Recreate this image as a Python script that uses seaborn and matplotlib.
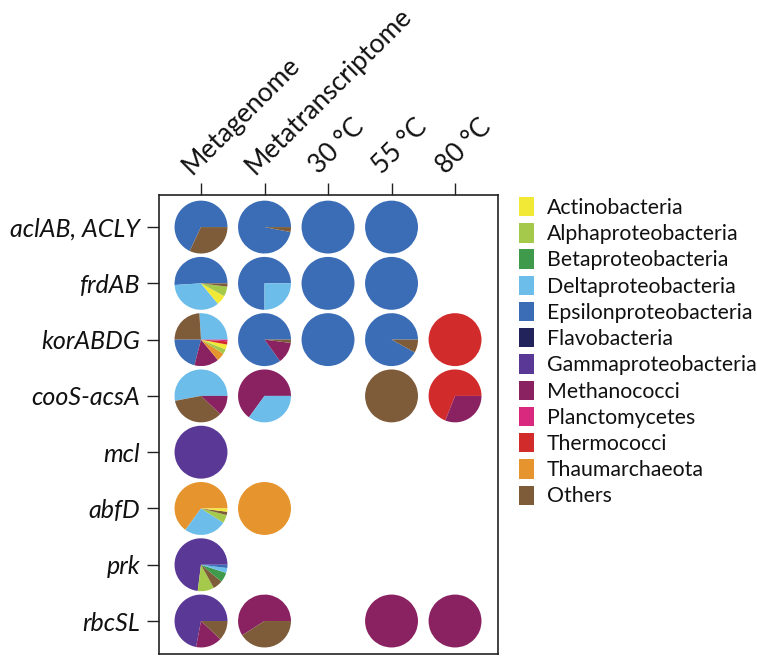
import matplotlib
matplotlib.use("Agg")
import matplotlib.pyplot as plt
from matplotlib.patches import Patch
from matplotlib.transforms import ScaledTranslation
import seaborn as sns

samples = ["Metagenome", "Metatranscriptome", "30 °C", "55 °C", "80 °C"]
genes = ["aclAB, ACLY", "frdAB", "korABDG", "cooS-acsA", "mcl", "abfD", "prk", "rbcSL"]

taxa = ["Actinobacteria", "Alphaproteobacteria", "Betaproteobacteria",
        "Deltaproteobacteria", "Epsilonproteobacteria", "Flavobacteria",
        "Gammaproteobacteria", "Methanococci", "Planctomycetes",
        "Thermococci", "Thaumarchaeota", "Others"]
taxa_colors = ["#f2e936", "#a4c94b", "#3f9a4c", "#6cbdea", "#3b6db6", "#23235c",
               "#5a3996", "#8a2262", "#d8297f", "#d22b2b", "#e6942e", "#7e5c3a"]

# share (%) of each taxon, listed counter-clockwise from 3 o'clock; None = no hits
aclAB = [[("Epsilonproteobacteria", 68), ("Others", 32)],
         [("Epsilonproteobacteria", 97), ("Others", 3)],
         [("Epsilonproteobacteria", 100)],
         [("Epsilonproteobacteria", 100)],
         None]
frdAB = [[("Epsilonproteobacteria", 51), ("Deltaproteobacteria", 35), ("Actinobacteria", 6),
          ("Alphaproteobacteria", 6), ("Others", 2)],
         [("Epsilonproteobacteria", 75), ("Deltaproteobacteria", 25)],
         [("Epsilonproteobacteria", 100)],
         [("Epsilonproteobacteria", 100)],
         None]
korABDG = [[("Deltaproteobacteria", 26), ("Others", 24), ("Epsilonproteobacteria", 21),
            ("Methanococci", 15), ("Thaumarchaeota", 5), ("Alphaproteobacteria", 3),
            ("Actinobacteria", 3), ("Thermococci", 2), ("Planctomycetes", 1)],
           [("Epsilonproteobacteria", 85), ("Methanococci", 13), ("Others", 2)],
           [("Epsilonproteobacteria", 100)],
           [("Epsilonproteobacteria", 92), ("Others", 8)],
           [("Thermococci", 100)]]
cooS_acsA = [[("Deltaproteobacteria", 53), ("Others", 35), ("Methanococci", 12)],
             [("Methanococci", 65), ("Deltaproteobacteria", 35)],
             None,
             [("Others", 100)],
             [("Thermococci", 69), ("Methanococci", 31)]]
mcl = [[("Gammaproteobacteria", 100)], None, None, None, None]
abfD = [[("Thaumarchaeota", 65), ("Deltaproteobacteria", 26), ("Alphaproteobacteria", 5),
         ("Others", 2), ("Actinobacteria", 2)],
        [("Thaumarchaeota", 100)],
        None, None, None]
prk = [[("Gammaproteobacteria", 73), ("Alphaproteobacteria", 10), ("Others", 6),
        ("Betaproteobacteria", 6), ("Deltaproteobacteria", 3), ("Epsilonproteobacteria", 2)],
       None, None, None, None]
rbcSL = [[("Gammaproteobacteria", 72), ("Methanococci", 16), ("Others", 12)],
         [("Methanococci", 59), ("Others", 41)],
         None,
         [("Methanococci", 100)],
         [("Methanococci", 100)]]
pies = [aclAB, frdAB, korABDG, cooS_acsA, mcl, abfD, prk, rbcSL]

sns.set_theme(style="white")
plt.rcParams["font.family"] = ["Lato", "DejaVu Sans"]
plt.rcParams["text.color"] = "#111111"
plt.rcParams["xtick.labelcolor"] = "#111111"
plt.rcParams["ytick.labelcolor"] = "#111111"
palette = dict(zip(taxa, sns.color_palette(taxa_colors)))

fig = plt.figure(figsize=(7.57, 6.58), dpi=100)
ax = fig.add_axes([159 / 757, 4 / 658, 339 / 757, 459 / 658])

xstep = 1.128   # column pitch relative to row pitch
radius = 0.47
nrows = len(genes)
for r, row in enumerate(pies):
    y = nrows - 1 - r
    for c, comp in enumerate(row):
        if comp is None:
            continue
        names = [t for t, v in comp]
        vals = [v for t, v in comp]
        ax.pie(vals, colors=[palette[n] for n in names], center=(c * xstep, y),
               radius=radius, startangle=0, counterclock=True, frame=True,
               wedgeprops=dict(linewidth=0))

ax.set_aspect("auto")
ax.set_xlim(-0.746, 5.275)
ax.set_ylim(-0.586, nrows - 1 + 0.57)

ax.set_xticks([c * xstep for c in range(len(samples))])
ax.set_xticklabels(samples, rotation=45, ha="left", va="bottom",
                   rotation_mode="anchor", fontsize=19)
ax.set_yticks([nrows - 1 - r for r in range(nrows)])
ax.set_yticklabels(genes, fontsize=18, style="italic")
ax.xaxis.tick_top()
ax.tick_params(axis="x", top=True, bottom=False, direction="out", length=8.5,
               width=1, color="#222222", pad=3)
ax.tick_params(axis="y", left=True, direction="out", length=8.5,
               width=1, color="#222222", pad=5)
for lab in ax.get_xticklabels():
    lab.set_transform(lab.get_transform() + ScaledTranslation(-4 / 72, 0, fig.dpi_scale_trans))
for s in ax.spines.values():
    s.set_visible(True)
    s.set_color("#222222")
    s.set_linewidth(1.2)

handles = [Patch(facecolor=palette[t], edgecolor="none", label=t) for t in taxa]
fig.legend(handles=handles, loc="upper left", bbox_to_anchor=(519 / 757, 1 - 197 / 658),
           frameon=False, fontsize=15.3, handlelength=0.7, handleheight=1.02,
           labelspacing=0.25, handletextpad=0.6, borderaxespad=0, borderpad=0)

fig.savefig("out.png", dpi=100)
